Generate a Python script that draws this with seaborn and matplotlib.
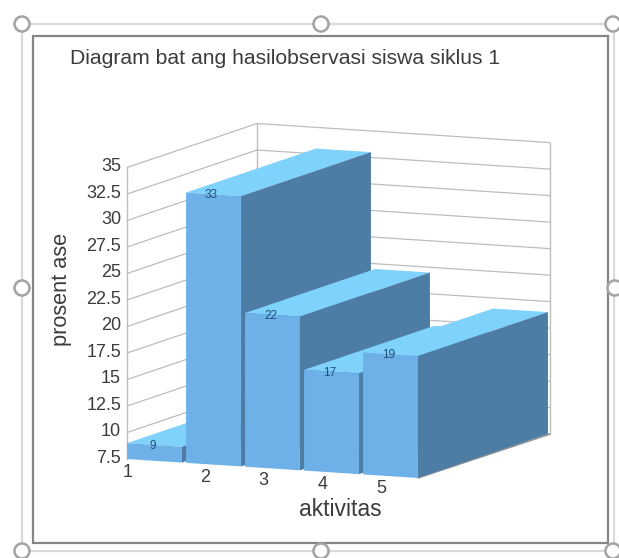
import matplotlib
matplotlib.use("Agg")
import matplotlib.pyplot as plt
from matplotlib.patches import Circle, Polygon, Rectangle
from matplotlib.transforms import Affine2D
import seaborn as sns

categories = ["1", "2", "3", "4", "5"]
values = [9, 33, 22, 17, 19]
y_ticks = [7.5, 10, 12.5, 15, 17.5, 20, 22.5, 25, 27.5, 30, 32.5, 35]
y_tick_labels = ["7.5", "10", "12.5", "15", "17.5", "20", "22.5", "25", "27.5", "30", "32.5", "35"]

title = "Diagram bat ang hasilobservasi siswa siklus 1"
x_label = "aktivitas"
y_label = "prosent ase"

# colours of the faces
front_col = "#6DB1E8"
top_col = "#7FD2FB"
side_col = "#4D7CA5"
text_col = "#3C3C3C"

# projection of the chart on the picture, in pixels
base = 7.5
step_x, slope_x = 59.0, 3.85
per_unit = 10.6
x0, y0 = 154.5, 460.8
depth_x, depth_y = 130.0, -44.0
bar_w = 0.93
left, right = -bar_w / 2, 4.5


def to_px(c, v, d=0.0):
    return (x0 + c * step_x + d * depth_x,
            y0 + c * slope_x - (v - base) * per_unit + d * depth_y)


sns.set_theme(style="white")
plt.rcParams["font.family"] = ["Liberation Sans", "DejaVu Sans"]

fig = plt.figure(figsize=(6.19, 5.58), dpi=100)
ax = fig.add_axes([0, 0, 1, 1])

# front faces come from seaborn, then get sheared onto the picture
sns.barplot(x=categories, y=values, color=front_col, saturation=1, width=bar_w,
            ax=ax, legend=False)
ax.set_xlim(0, 619)
ax.set_ylim(558, 0)
ax.set_xlabel("")
ax.set_ylabel("")
ax.axis("off")

shear = Affine2D.from_values(step_x, slope_x, 0, -per_unit, x0, y0 + base * per_unit)

for i, bar in enumerate(ax.patches):
    v = values[i]
    a, b = bar.get_x(), bar.get_x() + bar.get_width()
    bar.set_y(base)
    bar.set_height(v - base)
    bar.set_transform(shear + ax.transData)
    bar.set_linewidth(0)
    bar.set_zorder(5 + i + 0.5)
    ax.add_patch(Polygon([to_px(a, v), to_px(b, v), to_px(b, v, 1), to_px(a, v, 1)],
                         facecolor=top_col, edgecolor="none", zorder=5 + i))
    ax.add_patch(Polygon([to_px(b, base), to_px(b, v), to_px(b, v, 1), to_px(b, base, 1)],
                         facecolor=side_col, edgecolor="none", zorder=5 + i))
    cx, cy = to_px((a + b) / 2, v)
    ax.text(cx - 2, cy + 1, str(v), fontsize=8.5, color="#1F4E79",
            ha="center", va="center", zorder=20)

# walls of the box
grid_col = "#BDBDBD"
for v, lab in zip(y_ticks, y_tick_labels):
    p0, p1, p2 = to_px(left, v), to_px(left, v, 1), to_px(right, v, 1)
    ax.plot([p0[0], p1[0], p2[0]], [p0[1], p1[1], p2[1]], color=grid_col, lw=0.9, zorder=2)
    ax.text(p0[0] - 6, p0[1] - 1, lab, fontsize=13, color=text_col,
            ha="right", va="center")

for c, d in [(left, 0), (left, 1), (right, 1)]:
    p0, p1 = to_px(c, base, d), to_px(c, 35, d)
    ax.plot([p0[0], p1[0]], [p0[1], p1[1]], color=grid_col, lw=1.0, zorder=2)
p0, p1 = to_px(4.465, base, 0), to_px(right, base, 1)
ax.plot([p0[0], p1[0]], [p0[1], p1[1]], color="#8C8C8C", lw=1.0, zorder=3)

# category labels sit a bit left of the bars, the first one at the very corner
tick_shift = [-0.46, -0.15, -0.15, -0.15, -0.15]
for i, lab in enumerate(categories):
    px, py = to_px(i + tick_shift[i], base)
    ax.text(px, py + 13, lab, fontsize=13, color=text_col, ha="center", va="center")

ax.text(70, 58, title, fontsize=15.2, color=text_col, ha="left", va="center")
ax.text(340, 510, x_label, fontsize=16.5, color=text_col, ha="center", va="center")
ax.text(62, 289, y_label, fontsize=15.7, color=text_col, rotation=90, ha="center", va="center")

# object frame and selection handles around the picture
ax.add_patch(Rectangle((33, 36), 575, 507, fill=False, edgecolor="#858585", lw=1.6, zorder=1))
ax.add_patch(Rectangle((22, 24), 592, 527, fill=False, edgecolor="#DADADA", lw=1.6, zorder=0))
for hx, hy in [(22, 24), (321, 24), (613, 24), (22, 288), (615, 288),
               (22, 551), (321, 551), (613, 551)]:
    ax.add_patch(Circle((hx, hy), 7.5, facecolor="white", edgecolor="#A3A3A3", lw=1.8, zorder=30))

fig.savefig("out.png", dpi=100)
